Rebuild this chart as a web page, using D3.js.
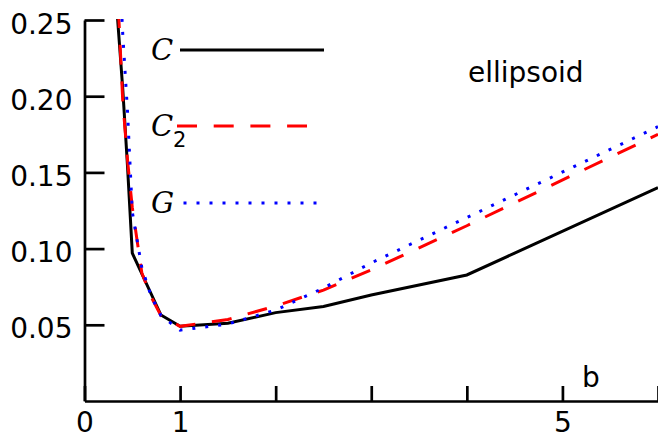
<!DOCTYPE html>
<html>
<head>
<meta charset="utf-8">
<script src="https://cdn.jsdelivr.net/npm/d3@7"></script>
<style>
    body { margin: 0; background: #fff; }
</style>
</head>
<body>
<div id="chart"></div>
<script>
var ctx = {
    w: 658,
    h: 436
};

// b values and curves
var bC = [0.3, 0.4, 0.45, 0.5, 0.8, 1, 1.5, 2, 2.5, 3, 4, 6];
var valC = [0.29, 0.205, 0.154, 0.097, 0.0564, 0.049, 0.051, 0.058, 0.062, 0.0696, 0.0827, 0.140];

var bC2 = [0.3, 0.4, 0.45, 0.5, 0.6, 0.7, 0.8, 1, 1.5, 2, 2.5, 3, 4, 6];
var valC2 = [0.33, 0.197, 0.158, 0.127, 0.084, 0.068, 0.056, 0.049, 0.0535, 0.0623, 0.0728, 0.086, 0.115, 0.175];

var bG = [0.3, 0.4, 0.45, 0.5, 0.6, 0.7, 0.8, 1, 1.5, 2, 2.5, 3, 4, 6];
var valG = [0.37, 0.241, 0.19, 0.124, 0.0873, 0.0684, 0.056, 0.0465, 0.0505, 0.0597, 0.0741, 0.0906, 0.1204, 0.180];

var xTicks = [0, 1, 2, 3, 4, 5, 6];
var xLabels = [0, 1, 5];
var yTicks = [0.05, 0.10, 0.15, 0.20, 0.25];

var seriesNames = ["C", "C", "G"];
var seriesSub = ["", "2", ""];
var seriesColors = ["#000000", "#ff0000", "#0000ff"];
var seriesDash = [null, "20,16.7", "3,10"];

var font = "'DejaVu Sans', sans-serif";

var createViz = function () {
    var svg = d3.select("#chart").append("svg")
        .attr("width", ctx.w)
        .attr("height", ctx.h);

    var x = d3.scaleLinear().domain([0, 6]).range([84.5, 658]);
    var y = d3.scaleLinear().domain([0, 0.25]).range([401, 20]);

    svg.append("clipPath").attr("id", "plot")
        .append("rect")
        .attr("x", x(0)).attr("y", y(0.25) - 1)
        .attr("width", x(6) - x(0)).attr("height", y(0) - y(0.25) + 1);

    // axes
    var yAxis = d3.axisLeft(y)
        .tickValues(yTicks)
        .tickSizeInner(-20)
        .tickSizeOuter(0)
        .tickPadding(12)
        .tickFormat(d3.format(".2f"));
    var gy = svg.append("g")
        .attr("transform", "translate(" + x(0) + ",0)")
        .call(yAxis);

    var xAxis = d3.axisBottom(x)
        .tickValues(xTicks)
        .tickSizeInner(-15)
        .tickSizeOuter(0)
        .tickPadding(11)
        .tickFormat(function (d) {
            return xLabels.indexOf(d) >= 0 ? d : "";
        });
    var gx = svg.append("g")
        .attr("transform", "translate(0," + y(0) + ")")
        .call(xAxis);

    [gx, gy].forEach(function (g) {
        g.attr("font-size", 28).attr("font-family", font);
        g.selectAll("path, line").attr("stroke", "#000").attr("stroke-width", 2.7);
        g.selectAll("text").attr("fill", "#000");
    });
    gy.selectAll("text").attr("dy", 13);

    // curves
    var curves = [
        { b: bC, v: valC },
        { b: bC2, v: valC2 },
        { b: bG, v: valG }
    ];
    var line = d3.line()
        .x(function (d) { return x(d[0]); })
        .y(function (d) { return y(d[1]); });

    curves.forEach(function (c, i) {
        var pts = c.b.map(function (b, j) { return [b, c.v[j]]; });
        svg.append("path")
            .datum(pts)
            .attr("clip-path", "url(#plot)")
            .attr("d", line)
            .attr("fill", "none")
            .attr("stroke", seriesColors[i])
            .attr("stroke-width", 3)
            .attr("stroke-dasharray", seriesDash[i]);
    });

    // legend
    var legY = [50, 126, 203];
    var legX1 = [180, 177, 183.5];
    var legX2 = [324, 307, 316.5];
    seriesNames.forEach(function (name, i) {
        svg.append("line")
            .attr("x1", legX1[i]).attr("x2", legX2[i])
            .attr("y1", legY[i]).attr("y2", legY[i])
            .attr("stroke", seriesColors[i])
            .attr("stroke-width", 3)
            .attr("stroke-dasharray", seriesDash[i]);
        svg.append("text")
            .attr("x", 151)
            .attr("y", legY[i] + 10)
            .attr("font-family", "'DejaVu Serif', serif")
            .attr("font-style", "italic")
            .attr("font-size", 29)
            .text(name);
        if (seriesSub[i]) {
            svg.append("text")
                .attr("x", 173)
                .attr("y", legY[i] + 21)
                .attr("font-family", font)
                .attr("font-size", 21)
                .text(seriesSub[i]);
        }
    });

    svg.append("text")
        .attr("x", 468).attr("y", 82)
        .attr("font-family", font)
        .attr("font-size", 28)
        .text("ellipsoid");

    svg.append("text")
        .attr("x", 582).attr("y", 387)
        .attr("font-family", font)
        .attr("font-size", 28)
        .text("b");
};

createViz();
</script>
</body>
</html>
